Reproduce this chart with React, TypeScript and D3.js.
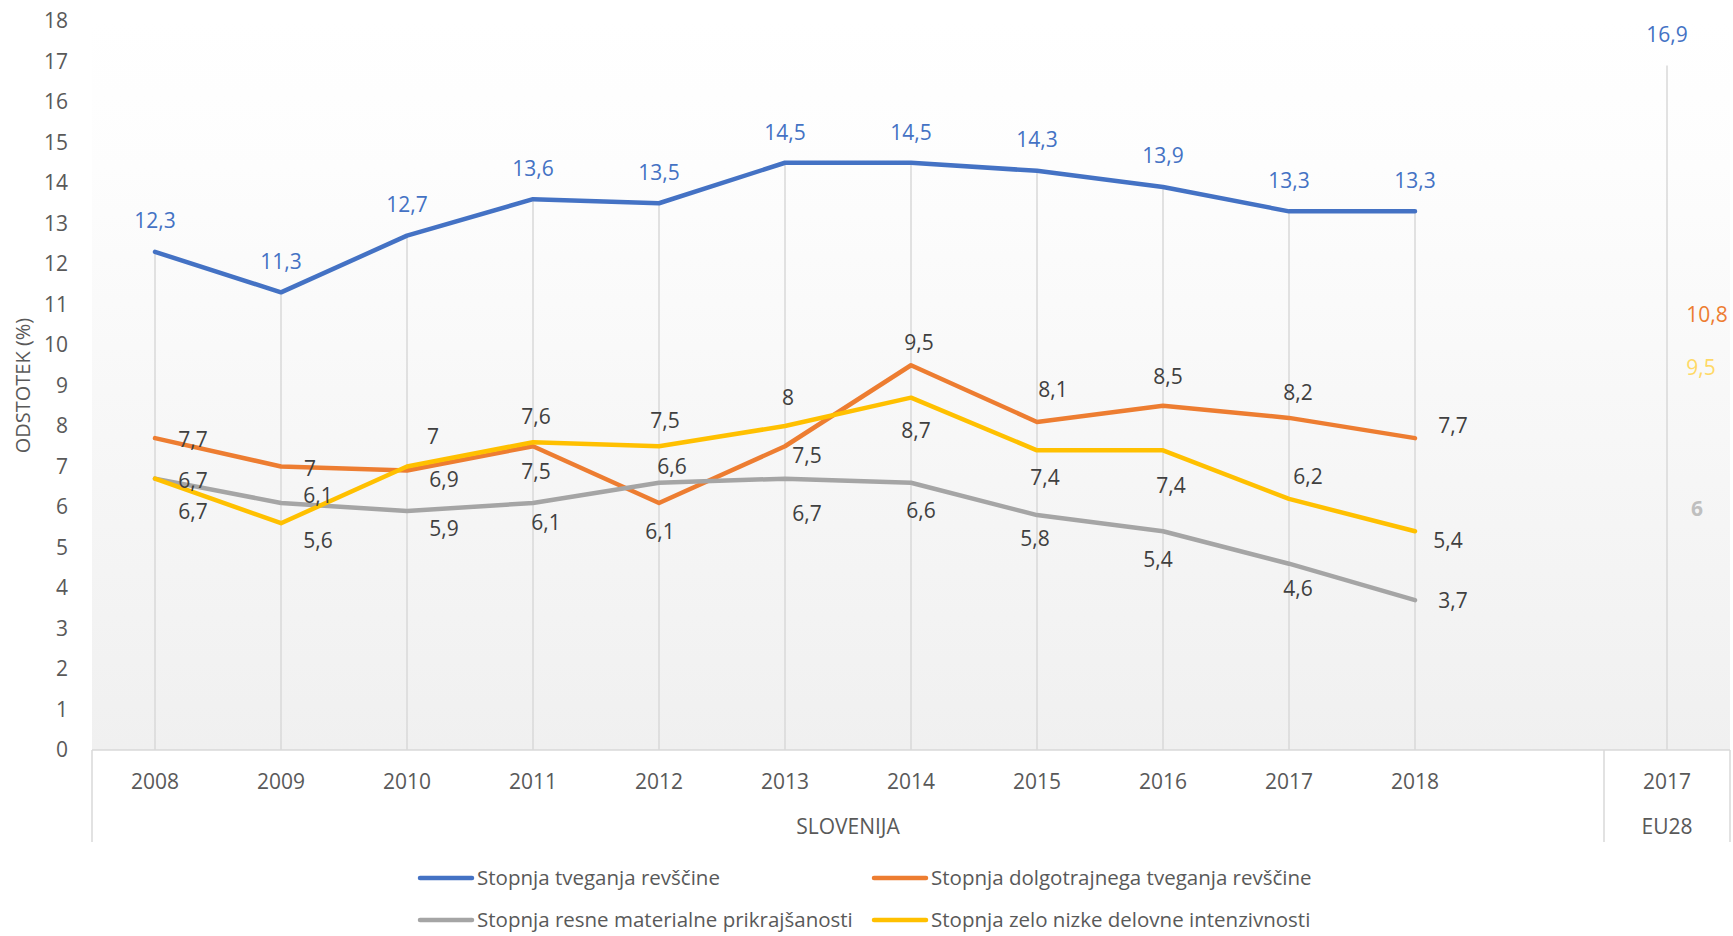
import React from "react";
import * as d3 from "d3";

// ---------- DATA ----------
const categories = ["2008", "2009", "2010", "2011", "2012", "2013", "2014", "2015", "2016", "2017", "2018", "", "2017"];
const groupNames = ["SLOVENIJA", "EU28"];
const groupStart = [0, 12];
const groupEnd = [11, 12];

const seriesNames = [
  "Stopnja tveganja revščine",
  "Stopnja dolgotrajnega tveganja revščine",
  "Stopnja resne materialne prikrajšanosti",
  "Stopnja zelo nizke delovne intenzivnosti",
];
const povertyRisk = [12.3, 11.3, 12.7, 13.6, 13.5, 14.5, 14.5, 14.3, 13.9, 13.3, 13.3, null, 16.9];
const persistentPovertyRisk = [7.7, 7.0, 6.9, 7.5, 6.1, 7.5, 9.5, 8.1, 8.5, 8.2, 7.7, null, 10.8];
const severeMaterialDeprivation = [6.7, 6.1, 5.9, 6.1, 6.6, 6.7, 6.6, 5.8, 5.4, 4.6, 3.7, null, 6];
const lowWorkIntensity = [6.7, 5.6, 7.0, 7.6, 7.5, 8.0, 8.7, 7.4, 7.4, 6.2, 5.4, null, 9.5];
const yTicks = [0, 1, 2, 3, 4, 5, 6, 7, 8, 9, 10, 11, 12, 13, 14, 15, 16, 17, 18];
const yTitle = "ODSTOTEK (%)";

// ---------- LAYOUT / STYLE ----------
const W = 1733;
const H = 936;
const plot = { left: 92, right: 1730, top: 21, bottom: 750 };
const colors = ["#4472C4", "#ED7D31", "#A5A5A5", "#FFC000"];
const labelColors = ["#4472C4", "#404040", "#404040", "#404040"];
const euLabelColors = ["#4472C4", "#ED7D31", "#BFBFBF", "#FFD966"];
const euLabelWeights = [400, 400, 700, 400];

// label offsets (px) relative to each point
const labelOffsets: number[][][] = [
  [[0, -31], [0, -31], [0, -31], [0, -31], [0, -31], [0, -30], [0, -30], [0, -31], [0, -31], [0, -31], [0, -31], [0, 0], [0, -31]],
  [[38, 1], [29, 2], [37, 9], [3, 25], [1, 29], [22, 9], [8, -23], [16, -32], [5, -29], [9, -25], [38, -13], [0, 0], [40, 2]],
  [[38, 2], [37, -7], [37, 18], [13, 20], [13, -16], [22, 35], [10, 28], [-2, 24], [-5, 28], [9, 25], [38, 0], [0, 0], [30, 2]],
  [[38, 33], [37, 17], [26, -30], [3, -26], [6, -26], [3, -28], [5, 33], [8, 27], [8, 35], [19, -22], [33, 9], [0, 0], [34, 2]],
];

const FONT = "'Open Sans', 'Noto Sans', sans-serif";

export default function App() {
  const series = [povertyRisk, persistentPovertyRisk, severeMaterialDeprivation, lowWorkIntensity];

  const x = d3.scaleBand<number>()
    .domain(categories.map((_, i) => i))
    .range([plot.left, plot.right])
    .paddingInner(0)
    .paddingOuter(0);
  const cx = (i: number) => (x(i) as number) + x.bandwidth() / 2;
  const y = d3.scaleLinear().domain([0, 18]).range([plot.bottom, plot.top]);

  const fmt = (v: number) => String(v).replace(".", ",");

  // runs of consecutive defined values (length > 1)
  const runs = (vals: (number | null)[]) => {
    const out: number[][] = [];
    let cur: number[] = [];
    vals.forEach((v, i) => {
      if (v == null) {
        if (cur.length) out.push(cur);
        cur = [];
      } else cur.push(i);
    });
    if (cur.length) out.push(cur);
    return out.filter((r) => r.length > 1);
  };

  // drop lines: from max value at each category to axis
  const maxes = categories.map((_, i) => {
    const vs = series.map((s) => s[i]).filter((v) => v != null) as number[];
    return vs.length ? d3.max(vs)! : null;
  });

  const legendItems = [
    { idx: 0, lx: 420, ly: 878 },
    { idx: 1, lx: 874, ly: 878 },
    { idx: 2, lx: 420, ly: 920 },
    { idx: 3, lx: 874, ly: 920 },
  ];

  return (
    <div style={{ position: "absolute", left: 0, top: 0 }}>
      <svg width={W} height={H} style={{ display: "block", background: "#fff" }} fontFamily={FONT}>
        <defs>
          <linearGradient id="bg" x1="0" y1="0" x2="0" y2="1">
            <stop offset="0" stopColor="#ffffff" />
            <stop offset="0.2" stopColor="#fdfdfd" />
            <stop offset="1" stopColor="#f0f0f0" />
          </linearGradient>
        </defs>
        <rect x={plot.left} y={plot.top} width={plot.right - plot.left} height={plot.bottom - plot.top} fill="url(#bg)" />

        {/* drop lines */}
        {maxes.map((m, i) =>
          m == null ? null : (
            <line key={"d" + i} x1={cx(i)} x2={cx(i)} y1={y(m)} y2={plot.bottom} stroke="#d9d9d9" strokeWidth={1.5} />
          )
        )}

        {/* x axis */}
        <line x1={plot.left} x2={plot.right} y1={plot.bottom} y2={plot.bottom} stroke="#d9d9d9" strokeWidth={1.5} />
        {[plot.left, x(groupStart[1]) as number, plot.right].map((xx, i) => (
          <line key={"sep" + i} x1={xx} x2={xx} y1={plot.bottom} y2={842} stroke="#d9d9d9" strokeWidth={1.5} />
        ))}
        {categories.map((c, i) => (
          <text key={"c" + i} x={cx(i)} y={782} dy="0.35em" textAnchor="middle" fontSize={21} fill="#595959">
            {c}
          </text>
        ))}
        {groupNames.map((g, gi) => {
          const x0 = x(groupStart[gi]) as number;
          const x1 = (x(groupEnd[gi]) as number) + x.bandwidth();
          return (
            <text key={"g" + gi} x={(x0 + x1) / 2} y={827} dy="0.35em" textAnchor="middle" fontSize={21} fill="#595959">
              {g}
            </text>
          );
        })}

        {/* y axis */}
        {yTicks.map((t) => (
          <text key={"y" + t} x={68} y={y(t)} dy="0.35em" textAnchor="end" fontSize={21} fill="#595959">
            {t}
          </text>
        ))}
        <text transform={`translate(23,${(plot.top + plot.bottom) / 2}) rotate(-90)`} textAnchor="middle" dy="0.35em" fontSize={20} fill="#595959">
          {yTitle}
        </text>

        {/* lines */}
        {series.map((s, si) =>
          runs(s).map((r, ri) => {
            const gen = d3.line<number>().x((i) => cx(i)).y((i) => y(s[i] as number));
            return (
              <path key={"l" + si + "-" + ri} d={gen(r) || ""} fill="none" stroke={colors[si]} strokeWidth={4.5} strokeLinejoin="round" strokeLinecap="round" />
            );
          })
        )}

        {/* data labels */}
        {series.map((s, si) =>
          s.map((v, i) => {
            if (v == null) return null;
            const [dx, dy] = labelOffsets[si][i];
            const isEU = i === categories.length - 1;
            return (
              <text
                key={"t" + si + "-" + i}
                x={cx(i) + dx}
                y={y(v) + dy}
                dy="0.35em"
                textAnchor="middle"
                fontSize={21}
                fontWeight={isEU ? euLabelWeights[si] : 400}
                fill={isEU ? euLabelColors[si] : labelColors[si]}
              >
                {fmt(v)}
              </text>
            );
          })
        )}

        {/* legend */}
        {legendItems.map((it) => (
          <g key={"lg" + it.idx}>
            <line x1={it.lx} x2={it.lx + 52} y1={it.ly} y2={it.ly} stroke={colors[it.idx]} strokeWidth={4.5} strokeLinecap="round" />
            <text x={it.lx + 57} y={it.ly} dy="0.35em" fontSize={20.5} fill="#595959">
              {seriesNames[it.idx]}
            </text>
          </g>
        ))}
      </svg>
    </div>
  );
}
